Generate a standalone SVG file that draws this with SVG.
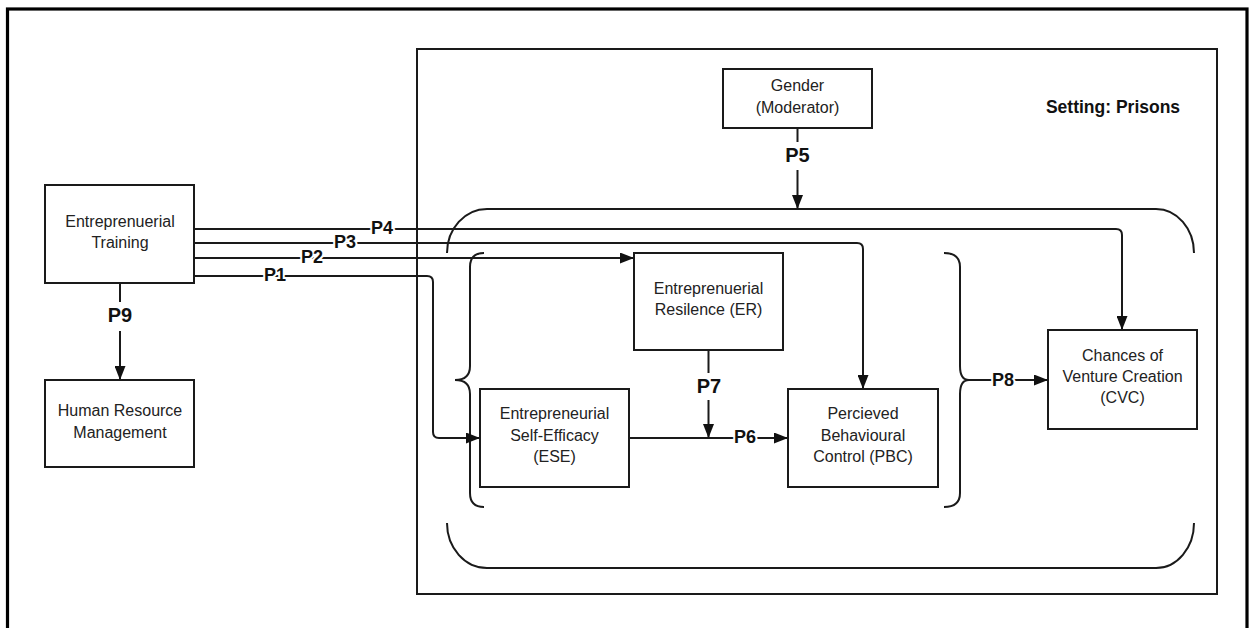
<svg xmlns="http://www.w3.org/2000/svg" width="1256" height="628" viewBox="0 0 1256 628">
<style>
.box{fill:#fff;stroke:#1a1a1a;stroke-width:2}
.ln{fill:none;stroke:#1a1a1a;stroke-width:2}
.t{font-family:"Liberation Sans",Arial,sans-serif;font-size:16px;fill:#222;text-anchor:middle}
.p{font-family:"Liberation Sans",Arial,sans-serif;font-size:18px;font-weight:bold;fill:#111;text-anchor:middle;stroke:#fff;stroke-width:4;paint-order:stroke;stroke-linejoin:round}
.pb{font-size:20px}
.gap{fill:#fff;stroke:none}
</style>
<defs>
<marker id="ar" markerUnits="userSpaceOnUse" markerWidth="14" markerHeight="11" refX="14" refY="5.5" orient="auto">
<path d="M0,0 L14,5.5 L0,11 z" fill="#111"/>
</marker>
</defs>
<rect width="1256" height="628" fill="#fff"/>
<rect id="frame" x="7.5" y="9" width="1239.5" height="700" fill="none" stroke="#000" stroke-width="3.2"/>
<g id="setting">
<rect x="417" y="49" width="800" height="545" fill="none" stroke="#1a1a1a" stroke-width="2"/>
<text x="1113" y="113" class="t" style="font-weight:bold;font-size:17.5px;fill:#111">Setting: Prisons</text>
</g>
<g id="brackets" class="ln">
<path class="ln" d="M447,253 A40,44 0 0 1 487,209 H1156 A38,44 0 0 1 1194,253"/>
<path class="ln" d="M447,523 A40,45 0 0 0 487,568 H1156 A38,45 0 0 0 1194,523"/>
<path class="ln" d="M484,253 Q470,253 470,267 V366 Q470,380 455,380 Q470,380 470,394 V493 Q470,507 484,507"/>
<path class="ln" d="M944,253 Q960,253 960,267 V366 Q960,380 969,380 Q960,380 960,394 V493 Q960,507 944,507"/>
</g>
<g id="connectors">
<path class="ln" d="M194,276 H427 Q433,276 433,282 V432 Q433,438 439,438 H480" marker-end="url(#ar)"/>
<path class="ln" d="M194,258 H634" marker-end="url(#ar)"/>
<path class="ln" d="M194,243 H857 Q863,243 863,249 V389" marker-end="url(#ar)"/>
<path class="ln" d="M194,229 H1116 Q1122,229 1122,235 V330" marker-end="url(#ar)"/>
<path class="ln" d="M797.5,128 V209" marker-end="url(#ar)"/>
<path class="ln" d="M629,438 H788" marker-end="url(#ar)"/>
<path class="ln" d="M708.5,350 V438" marker-end="url(#ar)"/>
<path class="ln" d="M969,380 H1048" marker-end="url(#ar)"/>
<path class="ln" d="M120,283 V380" marker-end="url(#ar)"/>
<rect class="gap" x="106" y="302" width="28" height="29"/>
<rect class="gap" x="784" y="142" width="28" height="28"/>
<rect class="gap" x="696" y="373" width="26" height="27"/>
<text class="p" x="275" y="281">P1</text>
<text class="p" x="312" y="263">P2</text>
<text class="p" x="345" y="248">P3</text>
<text class="p" x="382" y="234">P4</text>
<text class="p pb" x="797.5" y="162">P5</text>
<text class="p" x="745" y="443">P6</text>
<text class="p pb" x="709" y="393">P7</text>
<text class="p" x="1003" y="386">P8</text>
<text class="p pb" x="120" y="322">P9</text>
</g>
<g id="training">
<rect class="box" x="45" y="185" width="149" height="98"/>
<text class="t" x="120" y="227">Entreprenuerial</text>
<text class="t" x="120" y="248">Training</text>
</g>
<g id="hrm">
<rect class="box" x="45" y="380" width="149" height="87"/>
<text class="t" x="120" y="416">Human Resource</text>
<text class="t" x="120" y="438">Management</text>
</g>
<g id="gender">
<rect class="box" x="723" y="69" width="149" height="59"/>
<text class="t" x="797.5" y="91">Gender</text>
<text class="t" x="797.5" y="113">(Moderator)</text>
</g>
<g id="er">
<rect class="box" x="634" y="253" width="149" height="97"/>
<text class="t" x="708.5" y="294">Entreprenuerial</text>
<text class="t" x="708.5" y="315">Resilence (ER)</text>
</g>
<g id="ese">
<rect class="box" x="480" y="389" width="149" height="98"/>
<text class="t" x="554.5" y="419">Entrepreneurial</text>
<text class="t" x="554.5" y="441">Self-Efficacy</text>
<text class="t" x="554.5" y="462">(ESE)</text>
</g>
<g id="pbc">
<rect class="box" x="788" y="389" width="150" height="98"/>
<text class="t" x="863" y="419">Percieved</text>
<text class="t" x="863" y="441">Behavioural</text>
<text class="t" x="863" y="462">Control (PBC)</text>
</g>
<g id="cvc">
<rect class="box" x="1048" y="330" width="149" height="99"/>
<text class="t" x="1122.5" y="361">Chances of</text>
<text class="t" x="1122.5" y="382">Venture Creation</text>
<text class="t" x="1122.5" y="403">(CVC)</text>
</g>
</svg>
